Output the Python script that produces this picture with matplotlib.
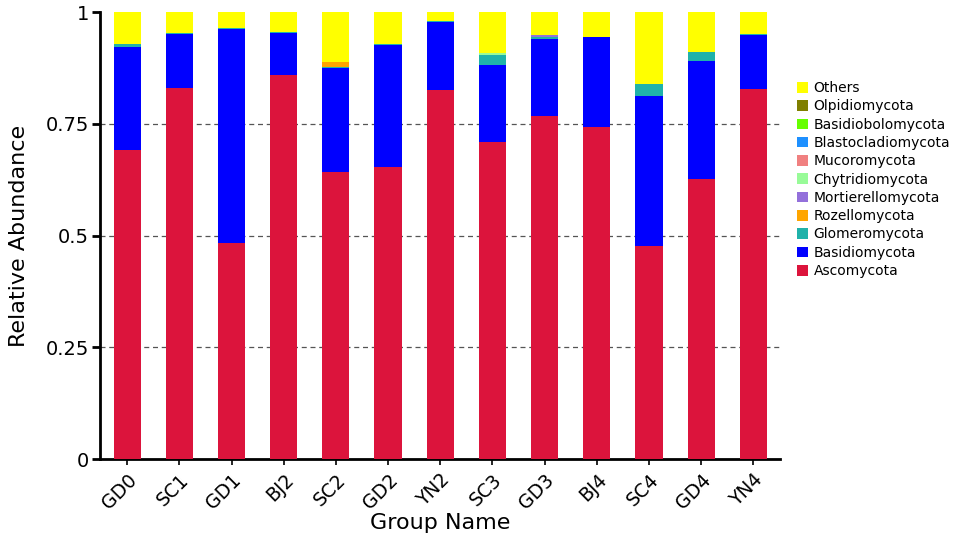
import numpy as np
import matplotlib
matplotlib.use("Agg")
import matplotlib.pyplot as plt

plt.rcParams['font.family'] = ['DejaVu Sans']

groups = ["GD0", "SC1", "GD1", "BJ2", "SC2", "GD2", "YN2",
          "SC3", "GD3", "BJ4", "SC4", "GD4", "YN4"]

# stacked from the bottom up
phyla = ["Ascomycota", "Basidiomycota", "Glomeromycota", "Rozellomycota",
         "Mortierellomycota", "Chytridiomycota", "Mucoromycota",
         "Blastocladiomycota", "Basidiobolomycota", "Olpidiomycota", "Others"]

ascomycota = [0.692, 0.829, 0.483, 0.859, 0.641, 0.654, 0.826,
              0.709, 0.768, 0.743, 0.477, 0.626, 0.827]
basidiomycota = [0.229, 0.121, 0.479, 0.094, 0.233, 0.272, 0.152,
                 0.172, 0.172, 0.200, 0.336, 0.264, 0.122]
glomeromycota = [0.007, 0.004, 0.003, 0.003, 0.002, 0.002, 0.001,
                 0.023, 0.003, 0.002, 0.027, 0.021, 0.001]
rozellomycota = [0, 0, 0, 0, 0.013, 0, 0, 0, 0, 0, 0, 0, 0]
mortierellomycota = [0, 0, 0, 0, 0, 0, 0, 0, 0.006, 0, 0, 0, 0]
chytridiomycota = [0, 0, 0, 0, 0, 0, 0, 0.004, 0, 0, 0, 0, 0]
mucoromycota = [0] * 13
blastocladiomycota = [0] * 13
basidiobolomycota = [0] * 13
olpidiomycota = [0] * 13
others = [0.072, 0.046, 0.035, 0.044, 0.111, 0.072, 0.021,
          0.092, 0.051, 0.055, 0.160, 0.089, 0.050]

values = [ascomycota, basidiomycota, glomeromycota, rozellomycota,
          mortierellomycota, chytridiomycota, mucoromycota,
          blastocladiomycota, basidiobolomycota, olpidiomycota, others]

colors = ["#dc143c", "#0000ff", "#20b2aa", "#ffa500", "#9370db", "#98fb98",
          "#f08080", "#1e90ff", "#66ff00", "#7f7f00", "#ffff00"]


def main():
    fig = plt.figure(figsize=(9.57, 5.34), dpi=100)
    ax = fig.add_axes([0.1045, 0.1404, 0.7105, 0.8371])

    x = np.arange(len(groups))
    bottom = np.zeros(len(groups))
    handles = []
    for name, vals, col in zip(phyla, values, colors):
        vals = np.array(vals, dtype=float)
        b = ax.bar(x, vals, width=0.52, bottom=bottom, color=col,
                   edgecolor="none", label=name, zorder=3)
        handles.append(b)
        bottom += vals

    for yv in [0.25, 0.5, 0.75]:
        ax.axhline(yv, color="#555555", linestyle=(0, (4, 3)),
                   linewidth=0.9, zorder=1)

    ax.set_xlim(-0.52, 12.51)
    ax.set_ylim(0, 1)
    ax.set_yticks([0, 0.25, 0.5, 0.75, 1])
    ax.set_yticklabels(["0", "0.25", "0.5", "0.75", "1"], fontsize=14)
    ax.set_xticks(x)
    ax.set_xticklabels(groups, rotation=45, ha="right",
                       rotation_mode="anchor", fontsize=13.5)

    for side in ["top", "right"]:
        ax.spines[side].set_visible(False)
    ax.spines["left"].set_linewidth(2)
    ax.spines["bottom"].set_linewidth(2)
    ax.tick_params(axis="y", length=6, width=2, pad=2)
    ax.tick_params(axis="x", length=4, width=1.2, pad=4)

    ax.set_ylabel("Relative Abundance", fontsize=16, labelpad=12)
    ax.set_xlabel("Group Name", fontsize=16, labelpad=0)

    ax.legend(handles[::-1], phyla[::-1], loc="upper left",
              bbox_to_anchor=(1.017, 0.858), frameon=False, fontsize=10,
              handlelength=0.8, handleheight=0.8, handletextpad=0.4,
              labelspacing=0.31, borderaxespad=0)

    fig.savefig("out.png", dpi=100)


if __name__ == '__main__':
    main()
